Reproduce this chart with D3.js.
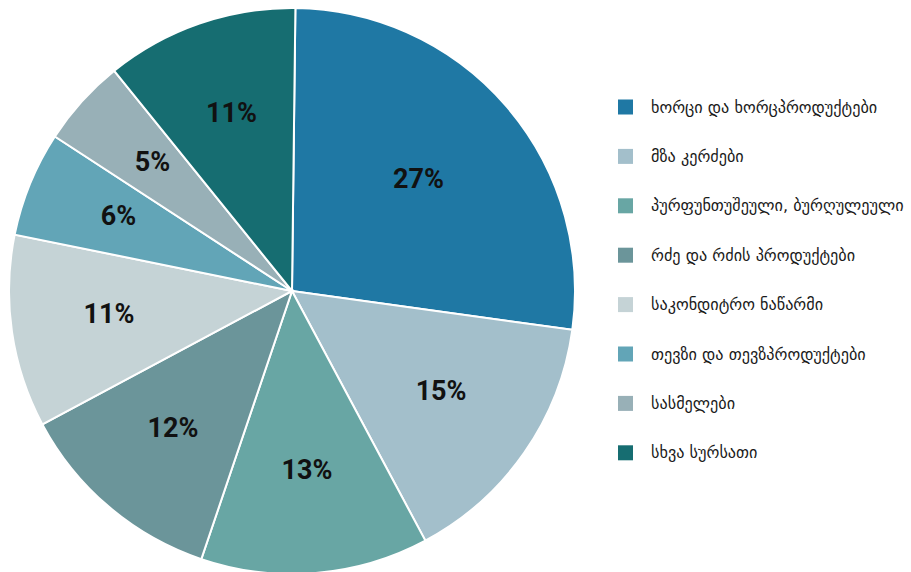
<!DOCTYPE html>
<html>
<head>
<meta charset="utf-8">
<script src="https://cdn.jsdelivr.net/npm/d3@7"></script>
<style>
  body { margin: 0; background: #fff; }
</style>
</head>
<body>
<div id="pie_chart"></div>
<script>
// categories and shares (%)
var categories = ["ხორცი და ხორცპროდუქტები", "მზა კერძები", "პურფუნთუშეული, ბურღულეული",
  "რძე და რძის პროდუქტები", "საკონდიტრო ნაწარმი", "თევზი და თევზპროდუქტები",
  "სასმელები", "სხვა სურსათი"];
var values = [27, 15, 13, 12, 11, 6, 5, 11];
var colors = ["#1f78a4", "#a3bfcb", "#68a6a4", "#6b959a", "#c5d3d6", "#62a5b7", "#98b0b7", "#166d71"];

var width = 911, height = 572;
var cx = 292, cy = 291, radius = 283;

var svg = d3.select("#pie_chart")
  .append("svg")
    .attr("width", width)
    .attr("height", height);

var pie = d3.pie()
  .sort(null)
  .startAngle(0.012)
  .endAngle(0.012 + 2 * Math.PI)
  .value(function(d) { return d; });

var arc = d3.arc()
  .innerRadius(0)
  .outerRadius(radius);

var g = svg.append("g")
  .attr("transform", "translate(" + cx + "," + cy + ")");

var arcs = pie(values);

g.selectAll("path")
  .data(arcs)
  .enter()
  .append("path")
    .attr("d", arc)
    .attr("fill", function(d, i) { return colors[i]; })
    .attr("stroke", "#fff")
    .attr("stroke-width", 2);

// labels at the area centroid of each slice
g.selectAll("text.lbl")
  .data(arcs)
  .enter()
  .append("text")
    .attr("class", "lbl")
    .attr("transform", function(d) {
      var half = (d.endAngle - d.startAngle) / 2;
      var mid = (d.startAngle + d.endAngle) / 2;
      var r = 2 * radius * Math.sin(half) / (3 * half);
      return "translate(" + (r * Math.sin(mid)) + "," + (-r * Math.cos(mid) - 4) + ")";
    })
    .attr("text-anchor", "middle")
    .attr("dy", "0.35em")
    .style("font-family", "Roboto, 'Liberation Sans', sans-serif")
    .style("font-weight", "bold")
    .style("font-size", "27px")
    .style("fill", "#111")
    .text(function(d) { return d.value + "%"; });

// legend
var legend = svg.append("g")
  .attr("transform", "translate(618,107)");

var item = legend.selectAll("g")
  .data(categories)
  .enter()
  .append("g")
    .attr("transform", function(d, i) { return "translate(0," + (i * 49.4) + ")"; });

item.append("rect")
  .attr("x", 0)
  .attr("y", -7.5)
  .attr("width", 15)
  .attr("height", 15)
  .attr("fill", function(d, i) { return colors[i]; });

item.append("text")
  .attr("x", 33)
  .attr("dy", "0.35em")
  .style("font-family", "'DejaVu Sans', sans-serif")
  .style("font-size", "16.2px")
  .style("fill", "#1a1a1a")
  .text(function(d) { return d; });
</script>
</body>
</html>
